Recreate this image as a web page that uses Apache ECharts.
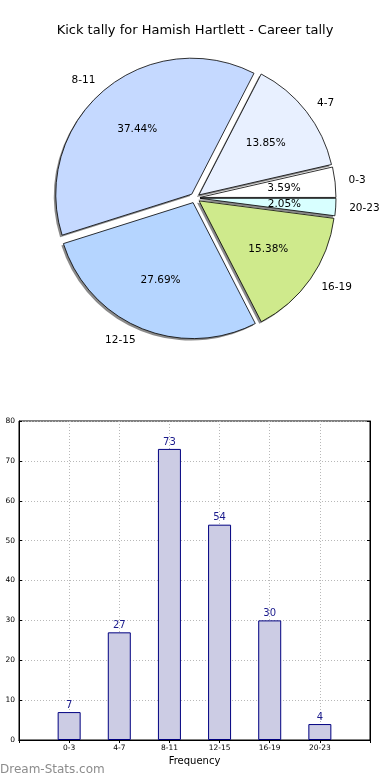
<!DOCTYPE html>
<html>
<head>
<meta charset="utf-8">
<script src="https://cdn.jsdelivr.net/npm/echarts@6/dist/echarts.min.js"></script>
<style>
html,body{margin:0;padding:0;background:#fff;}
#c{width:390px;height:780px;}
</style>
</head>
<body>
<div id="c"></div>
<script>
const categories = ['0-3', '4-7', '8-11', '12-15', '16-19', '20-23'];
const values = [7, 27, 73, 54, 30, 4];
const yTicks = [0, 10, 20, 30, 40, 50, 60, 70, 80];
const sliceColors = ['#ffffff', '#e8f0ff', '#c5d9ff', '#b5d5ff', '#cfea8c', '#d8ffff'];

const FONT = 'DejaVu Sans';
const R = 136;
const CENTER = [195, 198];
const SHADOW_CENTER = [CENTER[0] - 2, CENTER[1] + 2];

const pieData = categories.map((c, i) => ({
  name: c, value: values[i], selected: true,
  itemStyle: { color: sliceColors[i] },
  select: { itemStyle: { color: sliceColors[i] } }
}));
const plainData = categories.map((c, i) => ({ name: c, value: values[i], selected: true }));

const xCats = [''].concat(categories, ['']);
const barVals = ['-'].concat(values, ['-']);

const chart = echarts.init(document.getElementById('c'), null, { renderer: 'canvas' });
chart.setOption({
  animation: false,
  backgroundColor: '#fff',
  title: {
    text: 'Kick tally for Hamish Hartlett - Career tally',
    left: 'center', top: 19,
    textStyle: { fontFamily: FONT, fontSize: 13, fontWeight: 'normal', color: '#000' }
  },
  graphic: [{
    type: 'text', left: 0, top: 764,
    style: { text: 'Dream-Stats.com', fontFamily: FONT, fontSize: 12, fontWeight: 'normal', fill: '#8c8c8c' }
  }],
  grid: {
    left: 19, right: 20, top: 421, bottom: 40,
    show: true, borderColor: '#000', borderWidth: 1, backgroundColor: 'transparent'
  },
  xAxis: [{
    type: 'category', data: xCats, boundaryGap: false,
    name: 'Frequency', nameLocation: 'middle', nameGap: 16,
    nameTextStyle: { fontFamily: FONT, fontSize: 10, color: '#000' },
    axisLine: { lineStyle: { color: '#000' } },
    axisTick: { inside: true, length: 3, interval: 0, lineStyle: { color: '#000' } },
    axisLabel: { interval: 0, fontFamily: FONT, fontSize: 7.5, color: '#000', margin: 4 },
    splitLine: { show: true, interval: 0, lineStyle: { color: '#b8b8b8', type: [1, 2], width: 1 } }
  }, {
    type: 'category', data: xCats, boundaryGap: false, position: 'top',
    axisLine: { lineStyle: { color: '#000' } },
    axisTick: { inside: true, length: 3, interval: 0, lineStyle: { color: '#000' } },
    axisLabel: { show: false },
    splitLine: { show: false }
  }],
  yAxis: [{
    type: 'value', min: 0, max: 80, interval: 10,
    axisLine: { show: true, lineStyle: { color: '#000' } },
    axisTick: { show: true, inside: true, length: 3, lineStyle: { color: '#000' } },
    axisLabel: {
      fontFamily: FONT, fontSize: 7.5, color: '#000', margin: 4,
      formatter: v => (yTicks.indexOf(v) >= 0 ? String(v) : '')
    },
    splitLine: { show: true, lineStyle: { color: '#b8b8b8', type: [1, 2], width: 1 } }
  }, {
    type: 'value', min: 0, max: 80, interval: 10, position: 'right',
    axisLine: { show: true, lineStyle: { color: '#000' } },
    axisTick: { show: true, inside: true, length: 3, lineStyle: { color: '#000' } },
    axisLabel: { show: false },
    splitLine: { show: false }
  }],
  series: [
    {
      type: 'pie', center: SHADOW_CENTER, radius: [0, R],
      startAngle: 0, clockwise: false,
      selectedMode: 'multiple', selectedOffset: 5,
      avoidLabelOverlap: false, silent: true,
      itemStyle: { color: 'rgba(60,60,60,0.6)', borderWidth: 0 },
      select: { itemStyle: { color: 'rgba(60,60,60,0.6)', borderWidth: 0 } },
      label: { show: false }, labelLine: { show: false },
      emphasis: { disabled: true },
      data: plainData, z: 1
    },
    {
      type: 'pie', center: CENTER, radius: [0, R],
      startAngle: 0, clockwise: false,
      selectedMode: 'multiple', selectedOffset: 5,
      avoidLabelOverlap: false,
      itemStyle: { borderColor: '#000', borderWidth: 0.8 },
      label: {
        show: true, position: 'outside', formatter: '{b}',
        fontFamily: FONT, fontSize: 10.5, color: '#000', distanceToLabelLine: 0
      },
      labelLine: { show: false, length: 13.5, length2: 0 },
      emphasis: { disabled: true },
      data: pieData, z: 2
    },
    {
      type: 'pie', center: CENTER, radius: [R * 0.5, R * 0.7],
      startAngle: 0, clockwise: false,
      selectedMode: 'multiple', selectedOffset: 5,
      avoidLabelOverlap: false, silent: true,
      itemStyle: { color: 'rgba(0,0,0,0)', borderWidth: 0 },
      select: { itemStyle: { color: 'rgba(0,0,0,0)', borderWidth: 0 } },
      label: {
        show: true, position: 'inside', formatter: '{d}%',
        fontFamily: FONT, fontSize: 10.5, color: '#000'
      },
      labelLine: { show: false },
      emphasis: { disabled: true },
      data: plainData, z: 3
    },
    {
      type: 'bar', data: barVals, barWidth: 23,
      itemStyle: { color: '#cccce4', borderColor: '#000080', borderWidth: 1 },
      label: {
        show: true, position: 'top', distance: 2,
        fontFamily: FONT, fontSize: 10, color: '#1a1a8c'
      },
      emphasis: { disabled: true },
      z: 1
    }
  ]
});
</script>
</body>
</html>
